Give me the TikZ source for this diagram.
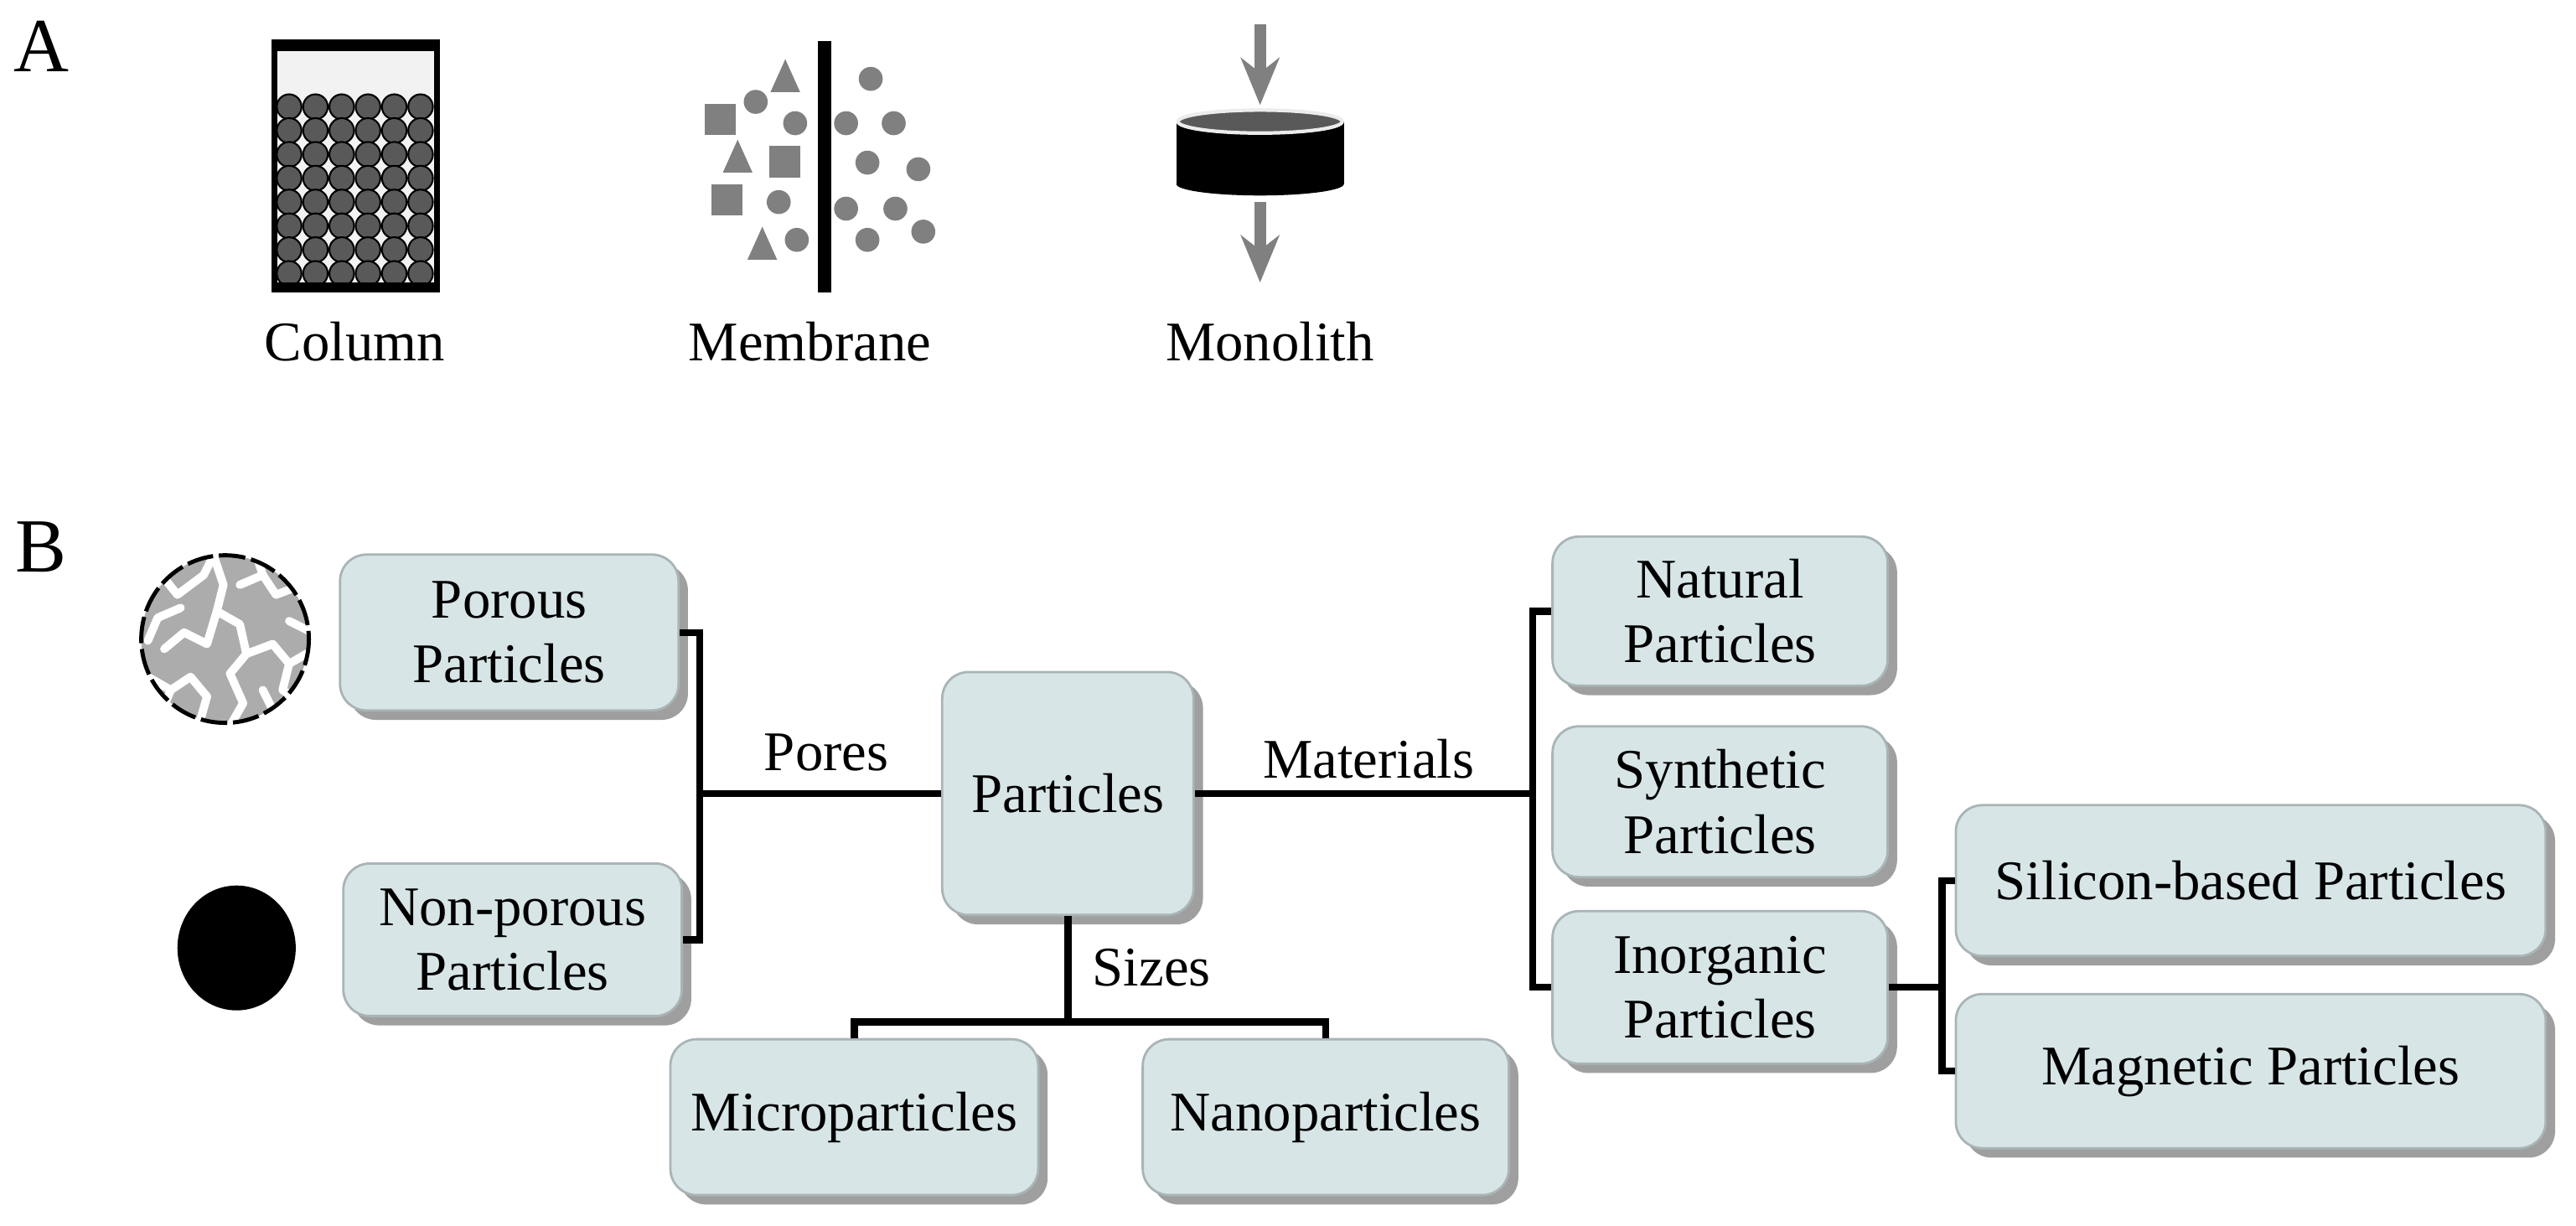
\documentclass[tikz,border=0pt]{standalone}
\usepackage{fontspec}
\setmainfont{Liberation Serif}
\newfontfamily\tms{Liberation Serif}
\usetikzlibrary{shadows,arrows.meta}
\definecolor{boxfill}{HTML}{D7E5E7}
\definecolor{boxedge}{HTML}{A9B4B6}
\definecolor{shapegray}{HTML}{808080}
\definecolor{beadgray}{HTML}{595959}
\begin{document}
\begin{tikzpicture}[x=0.0196cm,y=-0.0196cm,
  box/.style={draw=boxedge, line width=0.8pt, fill=boxfill, rounded corners=9pt, align=center,
    font=\tms\fontsize{19}{22}\selectfont, inner sep=2pt,
    drop shadow={shadow xshift=3.2pt, shadow yshift=-3.2pt, fill=gray!75, opacity=1}},
  conn/.style={line width=2.4pt, black},
  lbl/.style={font=\tms\fontsize{19}{22}\selectfont, inner sep=0pt},
  panel/.style={font=\tms\fontsize{26}{28}\selectfont, inner sep=0pt}]
\useasboundingbox (0,0) rectangle (1568,746);

% ---------- Panel A ----------
\node[panel] (A) at (25,28) {A};
% column
\fill[black!5] (166,25) rectangle (267,177);
\foreach \r in {0,...,7}{
  \foreach \c in {0,...,5}{
    \filldraw[fill=beadgray, draw=black, line width=0.6pt] (176+\c*16,65+\r*14.5) ellipse [x radius=7.5, y radius=7.6];
  }}
\fill[black] (166,25) rectangle (267,31);
\fill[black] (166,172) rectangle (267,177);
\draw[black, line width=2.2pt] (167,26) rectangle (266,176);
\node[lbl] (col) at (216,208) {Column};
% membrane
\fill[black] (498,25) rectangle (506,178);
\begin{scope}[shapegray]
\fill (478,36) -- (487,56) -- (469,56) -- cycle;
\fill (449,85) -- (458,105) -- (440,105) -- cycle;
\fill (464,138) -- (473,158) -- (455,158) -- cycle;
\fill (429,63) rectangle (448,82);
\fill (468,89) rectangle (487,108);
\fill (433,112) rectangle (452,131);
\foreach \p in {(460,62),(484,75),(474,123),(485,146),(530,48),(515,75),(544,75),(528,99),(559,103),(515,127),(545,127),(528,146),(562,141)}
  \fill \p circle [radius=7.3];
\end{scope}
\node[lbl] (mem) at (493,208) {Membrane};
% monolith
\fill[black] (716,74) rectangle (818,112);
\fill[black] (767,112) ellipse [x radius=51, y radius=7];
\filldraw[fill=beadgray, draw=white!85!gray, line width=1.2pt] (767,74) ellipse [x radius=50, y radius=7];
\draw[shapegray, line width=4pt, -{Stealth[length=16pt, width=13pt, inset=5pt]}] (767,15) -- (767,64);
\draw[shapegray, line width=4pt, -{Stealth[length=16pt, width=13pt, inset=5pt]}] (767,123) -- (767,172);
\node[lbl] (mon) at (773,208) {Monolith};

% ---------- Panel B ----------
\node[panel] (B) at (25,333) {B};
% porous particle
\begin{scope}
\clip (137,389) circle [radius=51];
\fill[gray!65] (137,389) circle [radius=51];
\begin{scope}[white, line width=2.8pt, line cap=round, line join=round]
\draw (86,360) -- (100,352) -- (108,362) -- (124,350) -- (130,338);
\draw (130,338) -- (136,356) -- (132,372) -- (146,380) -- (150,398) -- (140,410) -- (148,428) -- (140,442);
\draw (100,395) -- (112,385) -- (126,392) -- (132,372);
\draw (150,398) -- (166,392) -- (176,404) -- (190,396);
\draw (90,412) -- (104,420) -- (116,412) -- (126,424) -- (122,438);
\draw (146,356) -- (160,350) -- (168,362) -- (184,356) -- (188,368);
\draw (160,350) -- (156,338);
\draw (176,404) -- (172,420) -- (184,428);
\draw (104,420) -- (98,434);
\draw (160,420) -- (166,432) -- (158,442);
\draw (110,370) -- (96,376) -- (90,390);
\draw (176,378) -- (188,384);
\end{scope}
\end{scope}
\draw[black, line width=1.4pt, dash pattern=on 9pt off 2pt] (137,389) circle [radius=51];
\fill[black] (144,577) ellipse [x radius=36, y radius=38];

\node[box, minimum width=4.04cm, minimum height=1.86cm] (por) at (310,385) {Porous\\Particles};
\node[box, minimum width=4.04cm, minimum height=1.82cm] (non) at (312,572) {Non-porous\\Particles};
\node[box, minimum width=3.0cm, minimum height=2.9cm] (par) at (650,483) {Particles};
\node[box, minimum width=4.39cm, minimum height=1.86cm] (mic) at (520,680) {Microparticles};
\node[box, minimum width=4.37cm, minimum height=1.86cm] (nan) at (807,680) {Nanoparticles};
\node[box, minimum width=4.0cm, minimum height=1.78cm] (nat) at (1047,372) {Natural\\Particles};
\node[box, minimum width=4.0cm, minimum height=1.8cm] (syn) at (1047,488) {Synthetic\\Particles};
\node[box, minimum width=4.0cm, minimum height=1.82cm] (ino) at (1047,601) {Inorganic\\Particles};
\node[box, minimum width=7.04cm, minimum height=1.8cm] (sil) at (1370,536) {Silicon-based Particles};
\node[box, minimum width=7.04cm, minimum height=1.84cm] (mag) at (1370,652) {Magnetic Particles};

\coordinate (pj) at (426,483);
\coordinate (mj) at (933,483);
\coordinate (ij) at (1182,601);
\coordinate (sj) at (650,622);
\draw[conn] (por.east) -| (pj) |- (non.east);
\draw[conn] (pj) -- (par.west);
\draw[conn] (par.east) -- (mj);
\draw[conn] (nat.west) -| (mj) |- (ino.west);
\draw[conn] (ino.east) -- (ij);
\draw[conn] (sil.west) -| (ij) |- (mag.west);
\draw[conn] (par.south) -- (sj);
\draw[conn] (mic.north) |- (sj) -| (nan.north);
\node[lbl] (pores) at (503,458) {Pores};
\node[lbl] (mat) at (833,462) {Materials};
\node[lbl] (siz) at (701,589) {Sizes};
\end{tikzpicture}
\end{document}
